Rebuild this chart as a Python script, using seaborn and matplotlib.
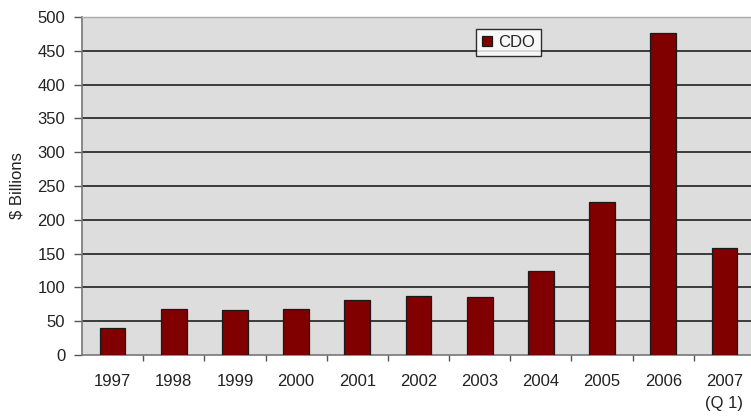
import matplotlib
matplotlib.use("Agg")
import matplotlib.pyplot as plt
import seaborn as sns
import pandas as pd

# CDO issuance by year, $ billions
years = ["1997", "1998", "1999", "2000", "2001", "2002", "2003",
         "2004", "2005", "2006", "2007\n(Q 1)"]
cdo_values = [40, 68, 66, 68, 82, 87, 86, 125, 226, 477, 159]
series_name = "CDO"
y_ticks = list(range(0, 501, 50))

sns.set_theme(style="white")
plt.rcParams["font.family"] = ["Liberation Sans", "DejaVu Sans"]

df = pd.DataFrame({"year": years, "value": cdo_values, "series": series_name})

W, H = 751, 417
fig = plt.figure(figsize=(W / 100, H / 100), dpi=100)
fig.patch.set_facecolor("white")
left, right, top, bottom = 82, 755, 17, 355
ax = fig.add_axes([left / W, (H - bottom) / H, (right - left) / W, (bottom - top) / H])
ax.set_facecolor("#DDDDDD")

sns.barplot(data=df, x="year", y="value", hue="series", palette=["#800000"],
            width=0.42, edgecolor="#1a1a1a", linewidth=0.9, saturation=1,
            ax=ax, zorder=3)

fs = 12
ax.set_ylim(0, 500)
ax.set_xlim(-0.5, len(years) - 0.5)
ax.set_yticks(y_ticks)
ax.set_yticklabels([str(t) for t in y_ticks], fontsize=fs, color="#222222")
for t in y_ticks[1:-1]:
    ax.axhline(t, color="#2e2e2e", lw=1.3, zorder=1)

ax.tick_params(axis="y", which="major", direction="out", length=6, width=1,
               color="#555555", left=True, pad=6)
ax.set_xticks(range(len(years)))
ax.set_xticklabels(years, fontsize=fs, color="#222222", linespacing=1.55)
ax.tick_params(axis="x", which="major", length=0, pad=14)
ax.set_xticks([i + 0.5 for i in range(len(years) - 1)], minor=True)
ax.tick_params(axis="x", which="minor", direction="out", length=4, width=1,
               color="#555555", bottom=True)

for side in ["left", "bottom"]:
    ax.spines[side].set_color("#777777")
    ax.spines[side].set_linewidth(1.2)
ax.spines["top"].set_color("#aaaaaa")
ax.spines["top"].set_linewidth(1)
ax.spines["right"].set_visible(False)

ax.set_xlabel("")
ax.set_ylabel("$ Billions", fontsize=fs, color="#222222", labelpad=9)

leg = ax.legend(loc="upper left", bbox_to_anchor=(0.585, 0.964), borderaxespad=0,
                frameon=True, fancybox=False, fontsize=fs, handlelength=0.6,
                handleheight=0.6, handletextpad=0.4, borderpad=0.35)
leg.get_frame().set_edgecolor("black")
leg.get_frame().set_linewidth(1)
leg.get_frame().set_facecolor("white")
leg.set_title(None)

fig.savefig("out.png", dpi=100, facecolor="white")
